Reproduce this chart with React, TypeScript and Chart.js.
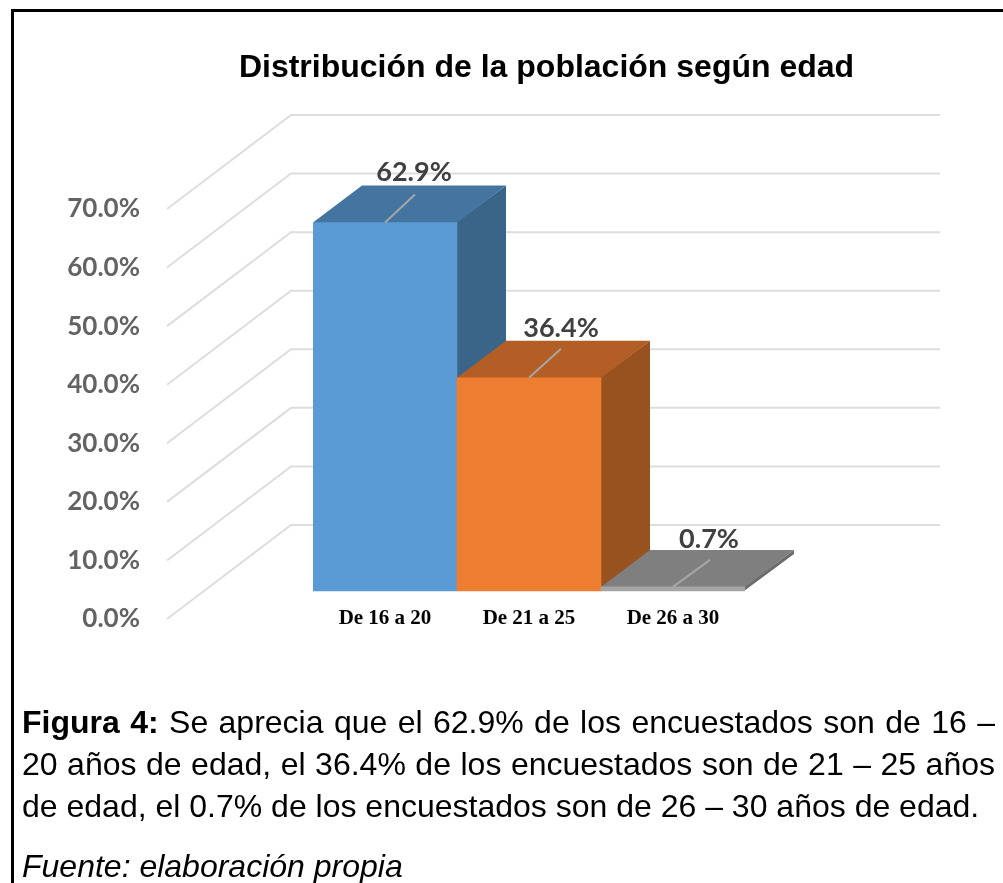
import React, { useEffect, useRef } from "react";
import { Chart, registerables } from "chart.js";

Chart.register(...registerables);

const categories = ["De 16 a 20", "De 21 a 25", "De 26 a 30"];
const percentages = [62.9, 36.4, 0.7];
const frontColors = ["#5B9BD5", "#ED7D31", "#A5A5A5"];
const topColors = ["#4474A0", "#B25E25", "#7F7F7F"];
const sideColors = ["#3A6488", "#975220", "#6B6B6B"];
const wallTicks = [0, 10, 20, 30, 40, 50, 60, 70];
const leaderEndDx = [30, 32, 37];
const leaderEndDy = [-28, -29, -27];
const labelDx = [29, 32, 36];
const labelDy = [-50, -50, -48];

const depthX = 49;
const depthY = -37;
const wallDepthX = 124;
const wallDepthY = -94;
const wallBackRight = 940;
const wallFrontLeft = 167;

function poly(ctx: CanvasRenderingContext2D, pts: number[][], color: string) {
  ctx.fillStyle = color;
  ctx.beginPath();
  pts.forEach(([x, y], i) => (i ? ctx.lineTo(x, y) : ctx.moveTo(x, y)));
  ctx.closePath();
  ctx.fill();
}

const wallAndDepth = {
  id: "wallAndDepth",
  afterLayout(chart: any) {
    // The category labels sit just above the axis line of the wall, so they must not be clipped to the axis box.
    chart.scales.x._computeLabelArea = () => undefined;
  },
  beforeDatasetsDraw(chart: any) {
    const { ctx } = chart;
    const y = chart.scales.y;
    ctx.save();
    ctx.strokeStyle = "#DDDDDD";
    ctx.lineWidth = 2;
    wallTicks.forEach((t) => {
      const py = y.getPixelForValue(t);
      ctx.beginPath();
      ctx.moveTo(wallFrontLeft, py);
      ctx.lineTo(wallFrontLeft + wallDepthX, py + wallDepthY);
      ctx.lineTo(wallBackRight, py + wallDepthY);
      ctx.stroke();
    });
    chart.getDatasetMeta(0).data.forEach((bar: any, i: number) => {
      const l = bar.x - bar.width / 2;
      const r = bar.x + bar.width / 2;
      const t = bar.y;
      const b = bar.base;
      poly(ctx, [[r - 1, t], [r + depthX, t + depthY], [r + depthX, b + depthY], [r - 1, b]], sideColors[i]);
      poly(ctx, [[l, t + 1], [r, t + 1], [r, t], [r + depthX, t + depthY], [l + depthX, t + depthY], [l, t]], topColors[i]);
    });
    ctx.restore();
  },
  afterDatasetsDraw(chart: any) {
    const { ctx } = chart;
    ctx.save();
    chart.getDatasetMeta(0).data.forEach((bar: any, i: number) => {
      ctx.strokeStyle = "#A6A6A6";
      ctx.lineWidth = 2;
      ctx.beginPath();
      ctx.moveTo(bar.x, bar.y);
      ctx.lineTo(bar.x + leaderEndDx[i], bar.y + leaderEndDy[i]);
      ctx.stroke();
      ctx.fillStyle = "#404040";
      ctx.font = "bold 27px Lato";
      ctx.textAlign = "center";
      ctx.textBaseline = "middle";
      ctx.fillText(percentages[i].toFixed(1) + "%", bar.x + labelDx[i], bar.y + labelDy[i]);
    });
    ctx.restore();
  },
};

const captionLine: React.CSSProperties = {
  position: "absolute",
  left: 22,
  width: 973,
  fontFamily: "'Liberation Sans', Arial, sans-serif",
  fontSize: 32,
  lineHeight: "36px",
  color: "#000",
  whiteSpace: "nowrap",
};

export default function App() {
  const ref = useRef<HTMLCanvasElement>(null);
  useEffect(() => {
    const chart = new Chart(ref.current as HTMLCanvasElement, {
      type: "bar",
      plugins: [wallAndDepth],
      data: {
        labels: categories,
        datasets: [
          {
            data: percentages,
            backgroundColor: frontColors,
            borderWidth: 0,
            yAxisID: "y1",
            categoryPercentage: 1,
            barPercentage: 1,
          },
        ],
      },
      options: {
        animation: false,
        responsive: false,
        layout: { padding: { left: 60, right: 0, top: 0, bottom: 0 } },
        plugins: {
          legend: { display: false },
          tooltip: { enabled: false },
          title: {
            display: true,
            text: "Distribución de la población según edad",
            color: "#000000",
            font: { family: "'Liberation Sans'", size: 32, weight: "bold", lineHeight: 1.25 },
            padding: { top: 48, bottom: 121 },
          },
        },
        scales: {
          x: {
            grid: { display: false, drawTicks: false },
            border: { display: false },
            ticks: {
              padding: -13,
              color: "#000000",
              maxRotation: 0,
              font: { family: "'Liberation Serif'", size: 21, weight: "bold" },
            },
            afterFit(s: any) {
              s.height = 264;
            },
          },
          y: {
            position: "left",
            min: 0,
            max: 70,
            grid: { display: false, drawTicks: false },
            border: { display: false },
            ticks: {
              stepSize: 10,
              padding: 173,
              color: "#636363",
              font: { family: "Lato", size: 26, weight: "bold" },
              callback: (v: any) => Number(v).toFixed(1) + "%",
            },
            afterFit(s: any) {
              s.width = 253;
            },
          },
          y1: {
            position: "right",
            min: -4.78,
            max: 65.22,
            grid: { display: false, drawTicks: false },
            border: { display: false },
            ticks: { display: false },
            afterFit(s: any) {
              s.width = 288;
            },
          },
        },
      } as any,
    });
    return () => chart.destroy();
  }, []);

  return (
    <div style={{ position: "absolute", left: 0, top: 0, width: 1003, height: 883, overflow: "hidden", background: "#fff" }}>
      <canvas ref={ref} width={1033} height={883} style={{ position: "absolute", left: 0, top: 0 }} />
      <div style={{ position: "absolute", left: 11, top: 9, right: 0, height: 3, background: "#000" }} />
      <div style={{ position: "absolute", left: 11, top: 9, bottom: 0, width: 3, background: "#000" }} />
      <div style={{ ...captionLine, top: 704, textAlign: "justify", textAlignLast: "justify" }}>
        <b>Figura 4:</b> Se aprecia que el 62.9% de los encuestados son de 16 –
      </div>
      <div style={{ ...captionLine, top: 746, textAlign: "justify", textAlignLast: "justify" }}>
        20 años de edad, el 36.4% de los encuestados son de 21 – 25 años
      </div>
      <div style={{ ...captionLine, top: 788 }}>
        de edad, el 0.7% de los encuestados son de 26 – 30 años de edad.
      </div>
      <div style={{ ...captionLine, top: 848, fontStyle: "italic" }}>Fuente: elaboración propia</div>
    </div>
  );
}
